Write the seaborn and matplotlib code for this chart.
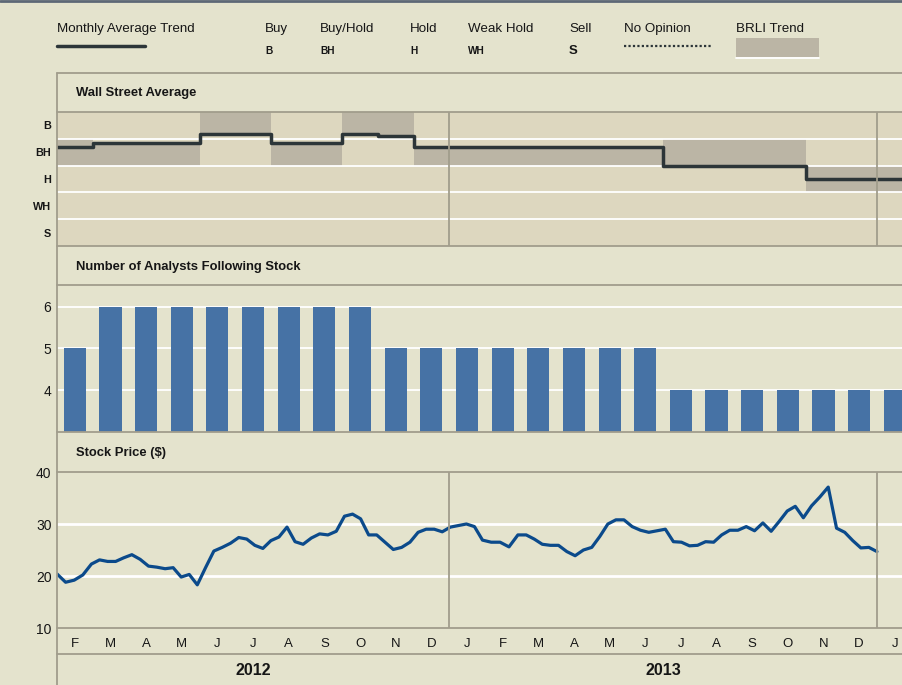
import numpy as np
import pandas as pd
import matplotlib
matplotlib.use('Agg')
import matplotlib.pyplot as plt
import seaborn as sns
from matplotlib.lines import Line2D
from matplotlib.patches import Rectangle

# months on the chart: Feb 2012 .. Jan 2014
months = pd.date_range('2012-02-01', periods=24, freq='MS')
month_letters = [d.strftime('%b')[0] for d in months]
years = [2012, 2013]

rating_labels = ['B', 'BH', 'H', 'WH', 'S']
# monthly average rating (1 = Buy ... 5 = Sell)
avg_rating = [1.8, 1.67, 1.67, 1.67, 1.33, 1.33, 1.67, 1.67, 1.33, 1.4,
              1.8, 1.8, 1.8, 1.8, 1.8, 1.8, 1.8,
              2.5, 2.5, 2.5, 2.5, 3.0, 3.0, 3.0]
# BRLI trend band (top / bottom, rating units)
trend_top = [1.5, 1.67, 1.67, 1.67, 0.5, 0.5, 1.67, 1.67, 0.5, 0.5,
             1.8, 1.8, 1.8, 1.8, 1.8, 1.8, 1.8,
             1.5, 1.5, 1.5, 1.5, 2.5, 2.5, 2.5]
trend_bottom = [2.5, 2.5, 2.5, 2.5, 1.33, 1.33, 2.5, 2.5, 1.33, 1.4,
                2.5, 2.5, 2.5, 2.5, 2.5, 2.5, 2.5,
                2.5, 2.5, 2.5, 2.5, 3.5, 3.5, 3.5]

analysts = [5, 6, 6, 6, 6, 6, 6, 6, 6, 5, 5, 5, 5, 5, 5, 5, 5,
            4, 4, 4, 4, 4, 4, 4]

# weekly closing price
price = [20.4, 18.8, 19.2, 20.2, 22.3, 23.1, 22.8, 22.8, 23.5, 24.1,
         23.2, 21.9, 21.7, 21.4, 21.6, 19.8, 20.3, 18.3, 21.6, 24.8,
         25.5, 26.3, 27.4, 27.1, 25.9, 25.3, 26.8, 27.5, 29.4, 26.6,
         26.1, 27.3, 28.1, 27.9, 28.6, 31.5, 31.9, 31.0, 27.9, 27.9,
         26.5, 25.1, 25.5, 26.5, 28.4, 29.0, 29.0, 28.5, 29.4, 29.7,
         30.0, 29.5, 26.9, 26.5, 26.5, 25.6, 27.9, 27.9, 27.1, 26.1,
         25.9, 25.9, 24.7, 23.9, 25.0, 25.5, 27.6, 30.0, 30.8, 30.8,
         29.5, 28.8, 28.4, 28.7, 29.0, 26.6, 26.5, 25.8, 25.9, 26.6,
         26.5, 27.9, 28.8, 28.8, 29.5, 28.7, 30.2, 28.6, 30.5, 32.5,
         33.4, 31.2, 33.5, 35.2, 37.1, 29.2, 28.4, 26.8, 25.4, 25.5,
         24.7]
weeks = pd.date_range('2012-02-01', periods=len(price), freq='7D')

BG = '#e4e3cd'
PANEL = '#ddd7bf'
SHADE = '#bbb5a5'
FRAME = '#a19d8c'
TREND = '#2c3538'
BAR = '#4672a5'
PRICE = '#0b4a8b'
TXT = '#161616'

sns.set_style('white')
plt.rcParams['font.family'] = ['Liberation Sans', 'DejaVu Sans']

W, H = 902, 685
fig = plt.figure(figsize=(W / 100, H / 100), dpi=100, facecolor=BG)


def px_axes(x0, y0, x1, y1, **kw):
    return fig.add_axes([x0 / W, 1 - y1 / H, (x1 - x0) / W, (y1 - y0) / H], **kw)


# month position helpers (month k centred at k)
x_edges = np.arange(len(months) + 1) - 0.5
week_pos = ((weeks.year - 2012) * 12 + weeks.month - 2
            + (weeks.day - 1) / weeks.days_in_month - 0.5)
xlim = (-0.5, -0.5 + (W - 57) / 35.65)

# --- Wall Street Average -------------------------------------------------
ax1 = px_axes(57, 112, W, 246)
ax1.set_facecolor(PANEL)
ax1.fill_between(x_edges, trend_top + trend_top[-1:], trend_bottom + trend_bottom[-1:],
                 step='post', color=SHADE, lw=0, zorder=1)
for b in [1.5, 2.5, 3.5, 4.5]:
    ax1.axhline(b, color='white', lw=1.3, zorder=2)
sns.lineplot(x=x_edges, y=avg_rating + avg_rating[-1:], drawstyle='steps-post',
             color=TREND, lw=2.5, ax=ax1, zorder=4)
ax1.set_ylim(5.5, 0.5)
ax1.set_yticks(range(1, 6), rating_labels, fontsize=7.8, fontweight='bold', color=TXT)

# --- Number of analysts --------------------------------------------------
ax2 = px_axes(57, 285, W, 432)
ax2.set_facecolor('none')
for g in [4, 5, 6]:
    ax2.axhline(g, color='white', lw=1.3, zorder=0)
sns.barplot(x=list(range(len(analysts))), y=analysts, color=BAR, saturation=1,
            width=0.62, ax=ax2, zorder=2, linewidth=0)
ax2.set_ylim(3, 6.52)
ax2.set_yticks([4, 5, 6], ['4', '5', '6'], fontsize=10, color=TXT)

# --- Stock price ----------------------------------------------------------
ax3 = px_axes(57, 472, W, 628)
ax3.set_facecolor('none')
for g in [20, 30]:
    ax3.axhline(g, color='white', lw=2, zorder=0)
sns.lineplot(x=week_pos, y=price, color=PRICE, lw=2.3, ax=ax3, zorder=3)
ax3.set_ylim(10, 40)
ax3.set_yticks([10, 20, 30, 40], ['10', '20', '30', '40'], fontsize=10, color=TXT)
ax3.set_xticks(range(len(months)), month_letters, fontsize=9.5, color=TXT)
ax3.tick_params(axis='x', length=0, pad=7)

for ax in (ax1, ax2, ax3):
    ax.set_xlim(*xlim)
    ax.set_xlabel('')
    ax.set_ylabel('')
    ax.tick_params(axis='y', length=0, pad=4)
    for s in ax.spines.values():
        s.set_visible(False)
for ax in (ax1, ax2):
    ax.set_xticks([])
for ax in (ax1, ax3):
    for d in [10.5, 22.5]:
        ax.axvline(d, color=FRAME, lw=1.3, zorder=5)

# year labels, centred under their months
for yr in years:
    idx = [i for i, m in enumerate(months) if m.year == yr]
    ax3.text(np.mean(idx), -0.27, str(yr), transform=ax3.get_xaxis_transform(),
             ha='center', va='center', fontsize=11.5, fontweight='bold', color=TXT)

# --- frame, headers and legend (pixel overlay) --------------------------
ov = fig.add_axes([0, 0, 1, 1], zorder=10)
ov.set_xlim(0, W)
ov.set_ylim(H, 0)
ov.axis('off')
ov.patch.set_alpha(0)

ov.add_line(Line2D([0, W], [1, 1], color='#5d6876', lw=2))
for yy in [73, 112, 246, 285, 432, 472, 628, 654]:
    ov.add_line(Line2D([57, W], [yy, yy], color=FRAME, lw=1.3))
ov.add_line(Line2D([57, 57], [73, H], color=FRAME, lw=1.3))

for yy, t in [(93, 'Wall Street Average'), (267, 'Number of Analysts Following Stock'),
              (453, 'Stock Price ($)')]:
    ov.text(76, yy, t, fontsize=9.4, fontweight='bold', va='center', color=TXT)

ov.text(57, 29, 'Monthly Average Trend', fontsize=9.6, va='center', color=TXT)
ov.add_line(Line2D([57, 145], [46, 46], color=TREND, lw=2.5))
legend_items = [('Buy', 'B', 265), ('Buy/Hold', 'BH', 320), ('Hold', 'H', 410),
                ('Weak Hold', 'WH', 468), ('Sell', 'S', 569)]
for name, code, xx in legend_items:
    ov.text(xx, 29, name, fontsize=9.6, va='center', color=TXT)
    ov.text(xx, 51, code, fontsize=9.5 if code == 'S' else 7.3, fontweight='bold',
            va='center', color=TXT)
ov.text(624, 29, 'No Opinion', fontsize=9.6, va='center', color=TXT)
ov.add_line(Line2D([624, 712], [46, 46], color=TREND, lw=1.6, ls=(0, (1, 1))))
ov.text(736, 29, 'BRLI Trend', fontsize=9.6, va='center', color=TXT)
ov.add_patch(Rectangle((736, 38), 83, 19, color=SHADE, lw=0))
ov.add_line(Line2D([736, 819], [57.5, 57.5], color='white', lw=1.3))

fig.savefig('out.png', dpi=100, facecolor=BG)
